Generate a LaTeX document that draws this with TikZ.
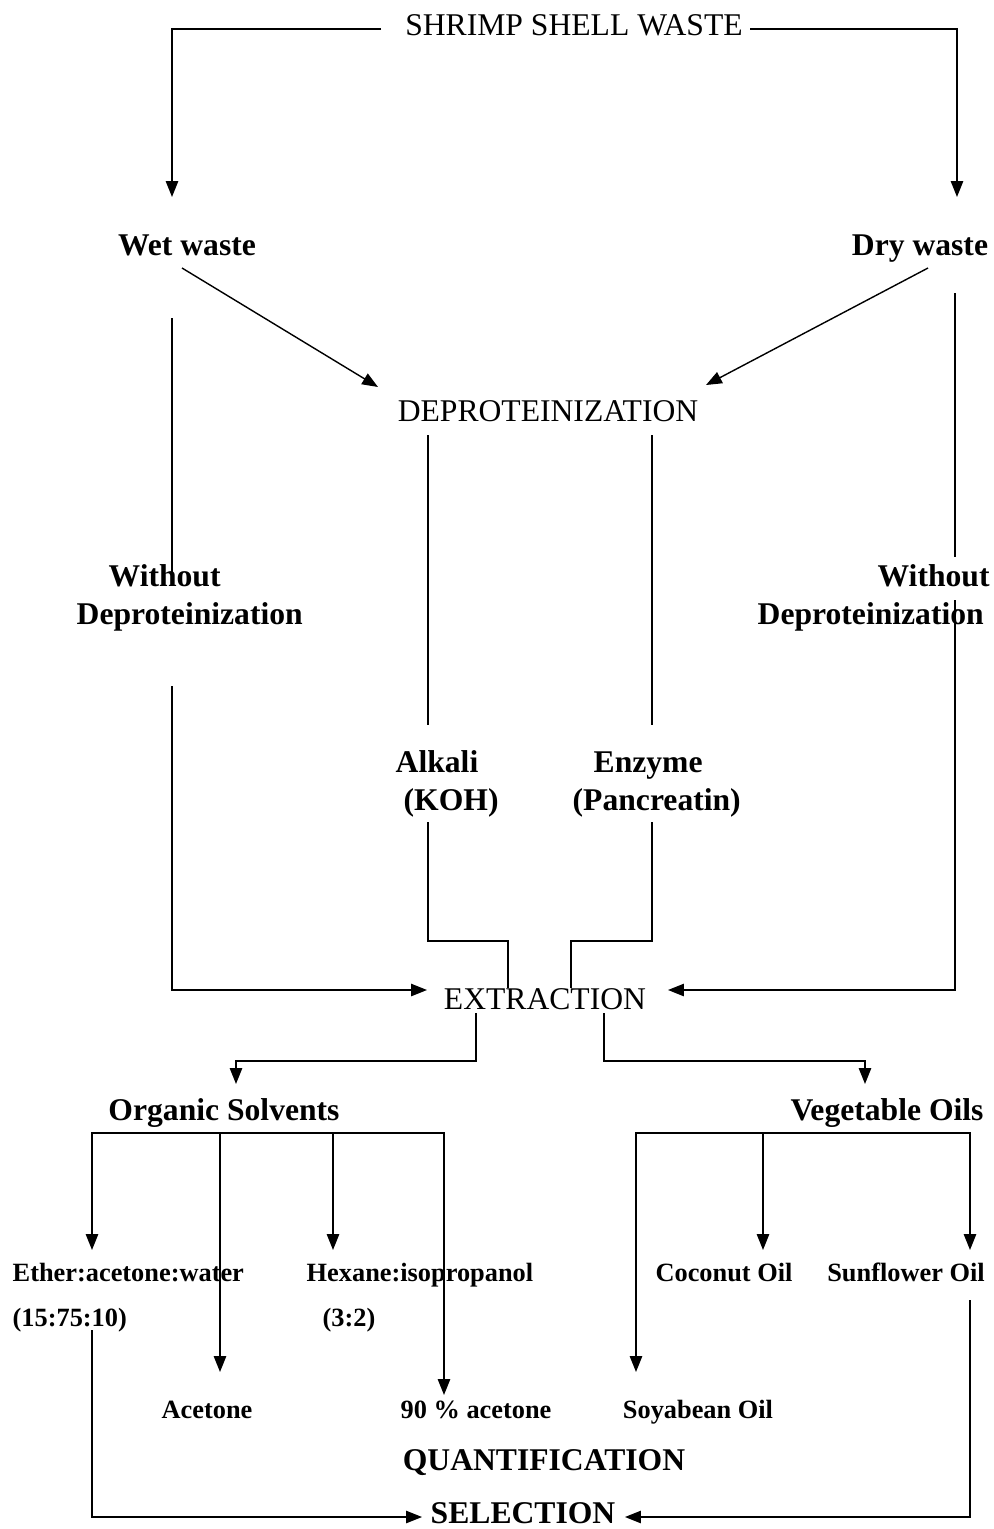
\documentclass[tikz,border=0pt]{standalone}
\usepackage{fontspec}
\setmainfont{Liberation Serif}
\usetikzlibrary{arrows.meta}

\begin{document}
\begin{tikzpicture}[x=0.02cm, y=-0.02cm, line width=0.8pt,
    big/.style={inner sep=0pt, anchor=base, font=\fontsize{18}{21.5}\selectfont},
    bigb/.style={inner sep=0pt, anchor=base, font=\fontsize{18}{21.5}\selectfont\bfseries},
    small/.style={inner sep=0pt, anchor=base, font=\fontsize{15}{25.5}\selectfont\bfseries},
    flow/.style={-{Triangle[length=9pt,width=7pt]}},
    twoway/.style={{Triangle[length=9pt,width=7pt]}-{Triangle[length=9pt,width=7pt]}}]
                      \useasboundingbox (0,0) rectangle (994,1529);

                      \node[big] (shrimp) at (574,35) {SHRIMP SHELL WASTE};
                      \node[bigb] (wet) at (187,255) {Wet waste};
                      \node[bigb] (dry) at (920,255) {Dry waste};
                      \node[big] (deprot) at (548,421) {DEPROTEINIZATION};
                      \node[bigb, align=left, anchor=base west] (nodepL) at (76,624) {\hspace*{0.64cm}Without\\Deproteinization};
                      \node[bigb, align=left, anchor=base west] (nodepR) at (757,624) {\hspace*{2.4cm}Without\\Deproteinization};
                      \node[bigb, align=left, anchor=base west] (alkali) at (395,810) {Alkali\\\hspace*{0.16cm}(KOH)};
                      \node[bigb, align=left, anchor=base west] (enzyme) at (572,810) {\hspace*{0.42cm}Enzyme\\(Pancreatin)};
                      \node[big] (extr) at (545,1009) {EXTRACTION};
                      \node[bigb] (org) at (224,1120) {Organic Solvents};
                      \node[bigb] (veg) at (887,1120) {Vegetable Oils};
                      \node[small, align=left, anchor=base west] (ether) at (12,1326) {Ether:acetone:water\\(15:75:10)};
                      \node[small, align=left, anchor=base west] (hexane) at (306,1326) {Hexane:isopropanol\\\hspace*{0.32cm}(3:2)};
                      \node[small] (coco) at (724,1281) {Coconut Oil};
                      \node[small] (sun) at (906,1281) {Sunflower Oil};
                      \node[small] (acet) at (207,1418) {Acetone};
                      \node[small] (acet90) at (476,1418) {90 \% acetone};
                      \node[small] (soya) at (698,1418) {Soyabean Oil};
                      \node[bigb] (quant) at (544,1470) {QUANTIFICATION};
                      \node[bigb] (sel) at (523,1523) {SELECTION};

                      % top split
                      \coordinate (sL) at (381,29);
                      \coordinate (sR) at (750,29);
                      \coordinate (wetIn) at (172,197);
                      \coordinate (dryIn) at (957,197);
                      \draw[flow] (sL) -| (wetIn);
                      \draw[flow] (sR) -| (dryIn);

                      % to deproteinization
                      \coordinate (wetD) at (182,268);
                      \coordinate (depL) at (378,387);
                      \coordinate (dryD) at (928,268);
                      \coordinate (depR) at (706,385);
                      \draw[flow] (wetD) -- (depL);
                      \draw[flow] (dryD) -- (depR);

                      % without deproteinization
                      \coordinate (wetV) at (172,318);
                      \coordinate (wetV2) at (172,585);
                      \coordinate (wetV3) at (172,686);
                      \coordinate (extrL) at (427,990);
                      \coordinate (dryV) at (955,293);
                      \coordinate (dryV2) at (955,557);
                      \coordinate (dryV3) at (955,600);
                      \coordinate (extrR) at (668,990);
                      \draw (wetV) -- (wetV2);
                      \draw[flow] (wetV3) |- (extrL);
                      \draw (dryV) -- (dryV2);
                      \draw[flow] (dryV3) |- (extrR);

                      % alkali and enzyme
                      \coordinate (alkTop) at (428,435);
                      \coordinate (alkBot) at (428,725);
                      \coordinate (enzTop) at (652,435);
                      \coordinate (enzBot) at (652,725);
                      \draw (alkTop) -- (alkBot);
                      \draw (enzTop) -- (enzBot);
                      \coordinate (alkOut) at (428,822);
                      \coordinate (alkKnee) at (428,941);
                      \coordinate (alkIn) at (508,988);
                      \coordinate (enzOut) at (652,822);
                      \coordinate (enzKnee) at (652,941);
                      \coordinate (enzIn) at (571,988);
                      \draw (alkOut) -- (alkKnee) -| (alkIn);
                      \draw (enzOut) -- (enzKnee) -| (enzIn);

                      % extraction split
                      \coordinate (exL) at (476,1013);
                      \coordinate (exLk) at (476,1061);
                      \coordinate (orgIn) at (236,1084);
                      \coordinate (exR) at (604,1013);
                      \coordinate (exRk) at (604,1061);
                      \coordinate (vegIn) at (865,1084);
                      \draw[flow] (exL) -- (exLk) -| (orgIn);
                      \draw[flow] (exR) -- (exRk) -| (vegIn);

                      % organic solvents
                      \coordinate (oR) at (444,1133);
                      \coordinate (o2) at (220,1133);
                      \coordinate (o3) at (333,1133);
                      \coordinate (etherIn) at (92,1250);
                      \coordinate (acetIn) at (220,1372);
                      \coordinate (hexIn) at (333,1250);
                      \coordinate (acet90In) at (444,1395);
                      \draw[twoway] (etherIn) |- (oR) -- (acet90In);
                      \draw[flow] (o2) -- (acetIn);
                      \draw[flow] (o3) -- (hexIn);

                      % vegetable oils
                      \coordinate (vR) at (970,1133);
                      \coordinate (v2) at (763,1133);
                      \coordinate (soyaIn) at (636,1372);
                      \coordinate (cocoIn) at (763,1250);
                      \coordinate (sunIn) at (970,1250);
                      \draw[twoway] (soyaIn) |- (vR) -- (sunIn);
                      \draw[flow] (v2) -- (cocoIn);

                      % selection
                      \coordinate (etherOut) at (92,1330);
                      \coordinate (selL) at (422,1517);
                      \coordinate (sunOut) at (970,1300);
                      \coordinate (selR) at (625,1517);
                      \draw[flow] (etherOut) |- (selL);
                      \draw[flow] (sunOut) |- (selR);
                  \end{tikzpicture}
\end{document}
